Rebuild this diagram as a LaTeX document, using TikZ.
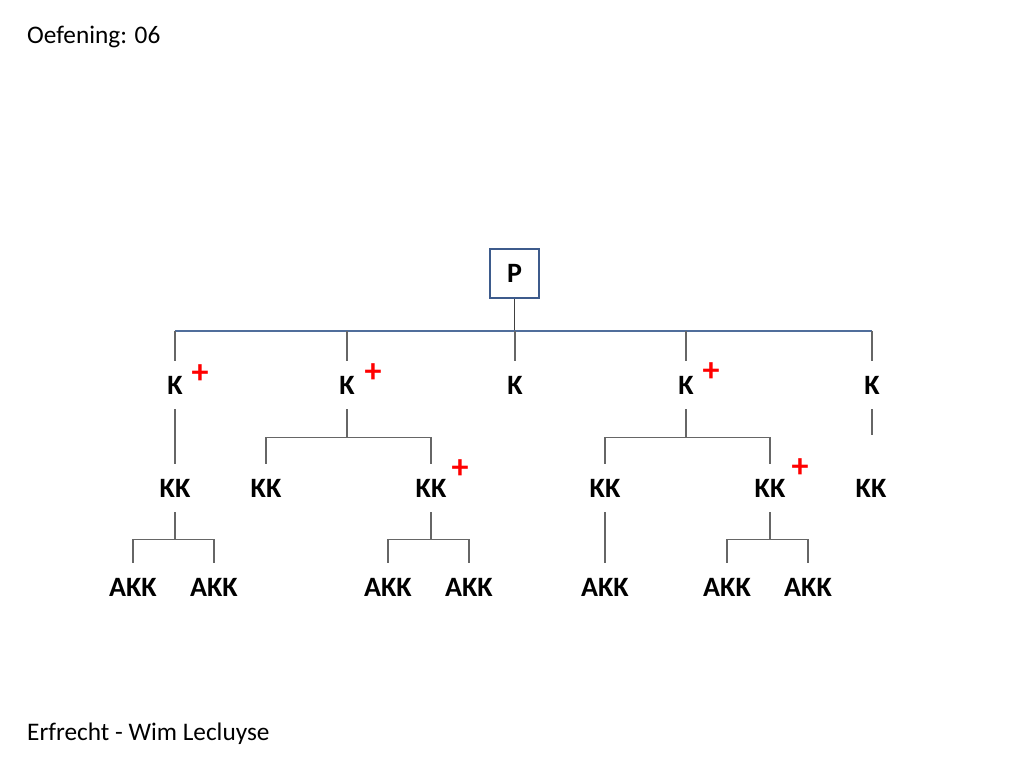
\documentclass[tikz,border=0pt]{standalone}
\usepackage{fontspec}
\setmainfont{Carlito}
\usetikzlibrary{positioning,calc}
\definecolor{boxblue}{RGB}{61,91,140}
\definecolor{lineblue}{RGB}{80,110,155}
\tikzstyle{person}=[font=\bfseries\fontsize{28}{32}\selectfont, inner sep=0pt, minimum height=48pt]
\tikzstyle{testator}=[person, draw=boxblue, line width=2.5pt, minimum size=49pt]
\tikzstyle{plus}=[text=red, font=\bfseries\fontsize{34}{36}\selectfont, inner sep=0pt]
\tikzstyle{branch}=[draw=black!60, line width=1.2pt]
\tikzstyle{caption}=[anchor=base west, inner sep=0pt, font=\fontsize{25.3}{30}\selectfont]

\begin{document}
\begin{tikzpicture}[x=1pt,y=-1pt]
  \useasboundingbox[fill=white] (0,0) rectangle (1024,768);

  \node[caption] (title) at (27,44) {Oefening: 06};
  \node[caption] (footer) at (27,740) {Erfrecht - Wim Lecluyse};

  % erflater
  \node[testator] (P) at (514.5,273.5) {P};

  % kinderen
  \node[person] (k1) at (175,385) {K};
  \node[person] (k2) at (347,385) {K};
  \node[person] (k3) at (515,385) {K};
  \node[person] (k4) at (686,385) {K};
  \node[person] (k5) at (872,385) {K};

  % kleinkinderen
  \node[person] (kk1) at (175,488) {KK};
  \node[person] (kk2) at (266,488) {KK};
  \node[person] (kk3) at (431,488) {KK};
  \node[person] (kk4) at (605,488) {KK};
  \node[person] (kk5) at (770,488) {KK};
  \node[person] (kk6) at (871,488) {KK};

  % achterkleinkinderen
  \node[person] (akk1) at (133,587) {AKK};
  \node[person] (akk2) at (214,587) {AKK};
  \node[person] (akk3) at (388,587) {AKK};
  \node[person] (akk4) at (469,587) {AKK};
  \node[person] (akk5) at (605,587) {AKK};
  \node[person] (akk6) at (727,587) {AKK};
  \node[person] (akk7) at (808,587) {AKK};

  % plustekens
  \node[plus] (p1) at (200,374) {+};
  \node[plus] (p2) at (373,373) {+};
  \node[plus] (p4) at (711,372) {+};
  \node[plus] (pk3) at (460,469) {+};
  \node[plus] (pk5) at (800,468) {+};

  % lijnen
  \coordinate (jP) at (514.5,331);
  \draw[branch, draw=black!75] (P.south) -- (jP);
  \draw[draw=lineblue, line width=1.2pt] (k1 |- jP) -- (k5 |- jP);
  \foreach \k in {k1,k2,k3,k4,k5}
    \draw[branch] (\k |- jP) -- (\k.north);

  \draw[branch] (k1) -- (kk1);
  \draw[branch] (k2.south) -- ++(0,28) coordinate (j2);
  \draw[branch] (kk2.north) |- (j2) -| (kk3.north);
  \draw[branch] (k4.south) -- ++(0,28) coordinate (j4);
  \draw[branch] (kk4.north) |- (j4) -| (kk5.north);
  \draw[branch] (k5.south) -- ++(0,26);

  \draw[branch] (kk1.south) -- ++(0,27) coordinate (jj1);
  \draw[branch] (akk1.north) |- (jj1) -| (akk2.north);
  \draw[branch] (kk3.south) -- ++(0,27) coordinate (jj3);
  \draw[branch] (akk3.north) |- (jj3) -| (akk4.north);
  \draw[branch] (kk4) -- (akk5);
  \draw[branch] (kk5.south) -- ++(0,27) coordinate (jj5);
  \draw[branch] (akk6.north) |- (jj5) -| (akk7.north);
\end{tikzpicture}
\end{document}
